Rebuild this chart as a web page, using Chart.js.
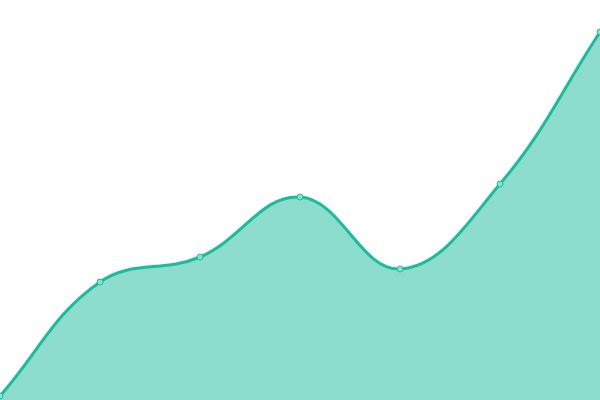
<!DOCTYPE html>
<html>
<head>
<meta charset="utf-8">
<script src="https://cdn.jsdelivr.net/npm/chart.js@4/dist/chart.umd.min.js"></script>
<style>
html,body{margin:0;padding:0;background:#fff;}
#wrap{width:600px;height:400px;}
</style>
</head>
<body>
<div id="wrap"><canvas id="c"></canvas></div>
<script>
const categories = ["A","B","C","D","E","F","G"];
const values = [1, 29.5, 35.75, 50.75, 32.75, 54, 92];

new Chart(document.getElementById('c'), {
  type: 'line',
  data: {
    labels: categories,
    datasets: [{
      data: values,
      borderColor: '#1abc9c',
      backgroundColor: 'rgba(26,188,156,0.5)',
      borderWidth: 3,
      fill: 'start',
      tension: 0.4,
      pointRadius: 3,
      pointBackgroundColor: '#8ce0cf',
      pointBorderColor: '#1abc9c',
      pointBorderWidth: 1
    }]
  },
  options: {
    responsive: true,
    maintainAspectRatio: false,
    animation: false,
    layout: { padding: 0, autoPadding: false },
    plugins: { legend: { display: false }, tooltip: { enabled: false } },
    scales: {
      x: { display: false, offset: false },
      y: { display: false, min: 0, max: 100 }
    }
  }
});
</script>
</body>
</html>
